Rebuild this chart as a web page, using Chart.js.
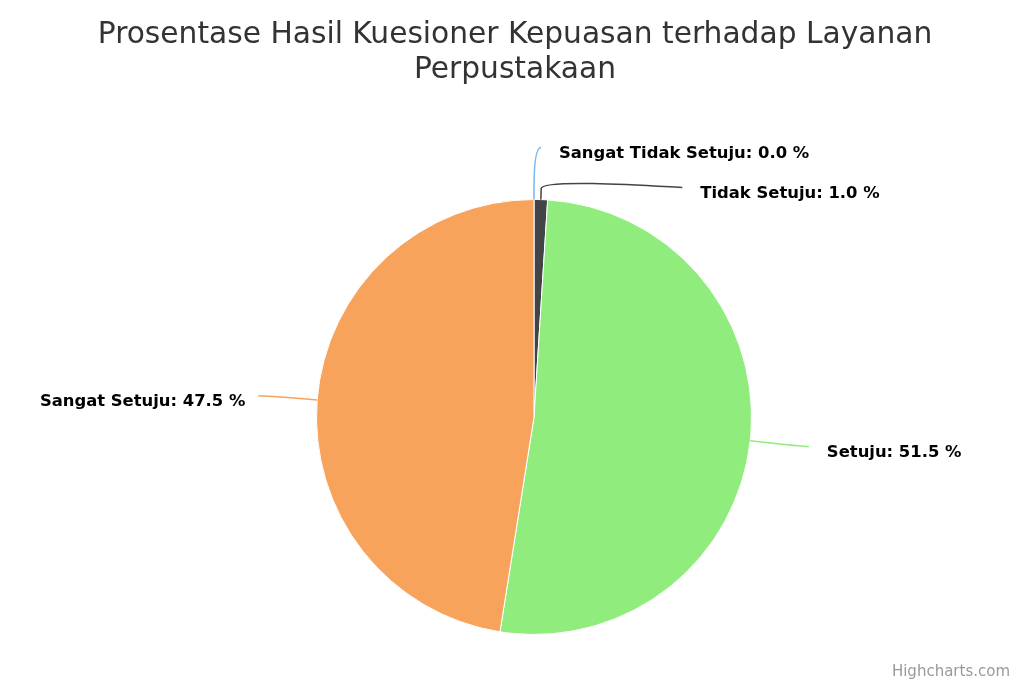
<!DOCTYPE html>
<html>
<head>
<meta charset="utf-8">
<script src="https://cdn.jsdelivr.net/npm/chart.js@4"></script>
<style>
  html, body { margin: 0; padding: 0; background: #ffffff; }
  #wrap { width: 1030px; height: 687px; }
</style>
</head>
<body>
<div id="wrap"><canvas id="chart" width="1030" height="687"></canvas></div>
<script>
// Data
const titleLines = ['Prosentase Hasil Kuesioner Kepuasan terhadap Layanan', 'Perpustakaan'];
const categories = ['Sangat Tidak Setuju', 'Tidak Setuju', 'Setuju', 'Sangat Setuju'];
const percentages = [0.0, 1.0, 51.5, 47.5];
const creditText = 'Highcharts.com';

// Highcharts default palette
const sliceColors = ['#7cb5ec', '#434348', '#90ed7d', '#f7a35c'];

// Label settings (Highcharts-like outside labels with soft connectors)
const labelDistance = 52;
const connectorPadding = 7;
const breakOffset = 11;
const boxHeight = 40;
const textGap = { left: 13, right: 18 };

const pieLabels = {
  id: 'pieLabels',
  afterDatasetsDraw(chart) {
    const ctx = chart.ctx;
    const arcs = chart.getDatasetMeta(0).data;
    const items = arcs.map((arc, i) => {
      const p = arc.getProps(['x', 'y', 'startAngle', 'endAngle', 'outerRadius'], true);
      const a = (p.startAngle + p.endAngle) / 2;
      const L = p.outerRadius + labelDistance;
      return {
        i, p, a, L,
        cos: Math.cos(a), sin: Math.sin(a),
        left: Math.cos(a) < 0,
        ny: p.y + Math.sin(a) * L
      };
    });

    // spread overlapping labels on each side
    [true, false].forEach(side => {
      const list = items.filter(it => it.left === side).sort((u, v) => u.ny - v.ny);
      if (!list.length) return;
      const top = list[0].p.y - list[0].L;
      const bottom = list[0].p.y + list[0].L;
      list.forEach((it, k) => {
        let y = Math.max(it.ny, top);
        if (k > 0) y = Math.max(y, list[k - 1].y + boxHeight);
        it.y = y;
      });
      for (let k = list.length - 1; k >= 0; k--) {
        const limit = k === list.length - 1 ? bottom : list[k + 1].y - boxHeight;
        if (list[k].y > limit) list[k].y = limit;
      }
      list.forEach(it => {
        const atEdge = Math.abs(it.y - top) < 0.5 || Math.abs(it.y - bottom) < 0.5;
        const dy = (atEdge ? it.ny : it.y) - it.p.y;
        const dx = Math.sqrt(Math.max(0, it.L * it.L - dy * dy)) + connectorPadding;
        it.x = it.p.x + (side ? -dx : dx);
      });
    });

    ctx.save();
    items.forEach(it => {
      const r = it.p.outerRadius;
      const tx = it.p.x + it.cos * r, ty = it.p.y + it.sin * r;
      const bx = it.p.x + it.cos * (r + breakOffset), by = it.p.y + it.sin * (r + breakOffset);
      ctx.beginPath();
      ctx.moveTo(it.x, it.y);
      ctx.bezierCurveTo(it.x + (it.left ? 7 : -7), it.y, 2 * bx - tx, 2 * by - ty, bx, by);
      ctx.lineTo(tx, ty);
      ctx.strokeStyle = sliceColors[it.i];
      ctx.lineWidth = 1.5;
      ctx.stroke();

      const text = categories[it.i] + ': ' + percentages[it.i].toFixed(1) + ' %';
      ctx.font = 'bold 16.4px "DejaVu Sans", sans-serif';
      ctx.fillStyle = '#000000';
      ctx.textBaseline = 'alphabetic';
      ctx.textAlign = it.left ? 'right' : 'left';
      ctx.fillText(text, it.x + (it.left ? -textGap.left : textGap.right), it.y + 10);
    });
    ctx.restore();
  },
  afterDraw(chart) {
    const ctx = chart.ctx;
    const w = chart.width;
    ctx.save();
    ctx.fillStyle = '#333333';
    ctx.font = '29.7px "DejaVu Sans", sans-serif';
    ctx.textAlign = 'center';
    ctx.textBaseline = 'alphabetic';
    ctx.fillText(titleLines[0], w / 2, 43);
    ctx.fillText(titleLines[1], w / 2, 78);

    ctx.fillStyle = '#999999';
    ctx.font = '15px "DejaVu Sans", sans-serif';
    ctx.textAlign = 'right';
    ctx.fillText(creditText, w - 20, 676);
    ctx.restore();
  }
};

new Chart(document.getElementById('chart'), {
  type: 'pie',
  data: {
    labels: categories,
    datasets: [{
      data: percentages,
      backgroundColor: sliceColors,
      borderColor: '#ffffff',
      borderWidth: 1,
      hoverOffset: 0
    }]
  },
  options: {
    responsive: false,
    animation: false,
    layout: { padding: { top: 199, bottom: 52, left: 38, right: 0 } },
    plugins: {
      legend: { display: false },
      title: { display: false },
      tooltip: { enabled: false }
    }
  },
  plugins: [pieLabels]
});
</script>
</body>
</html>
